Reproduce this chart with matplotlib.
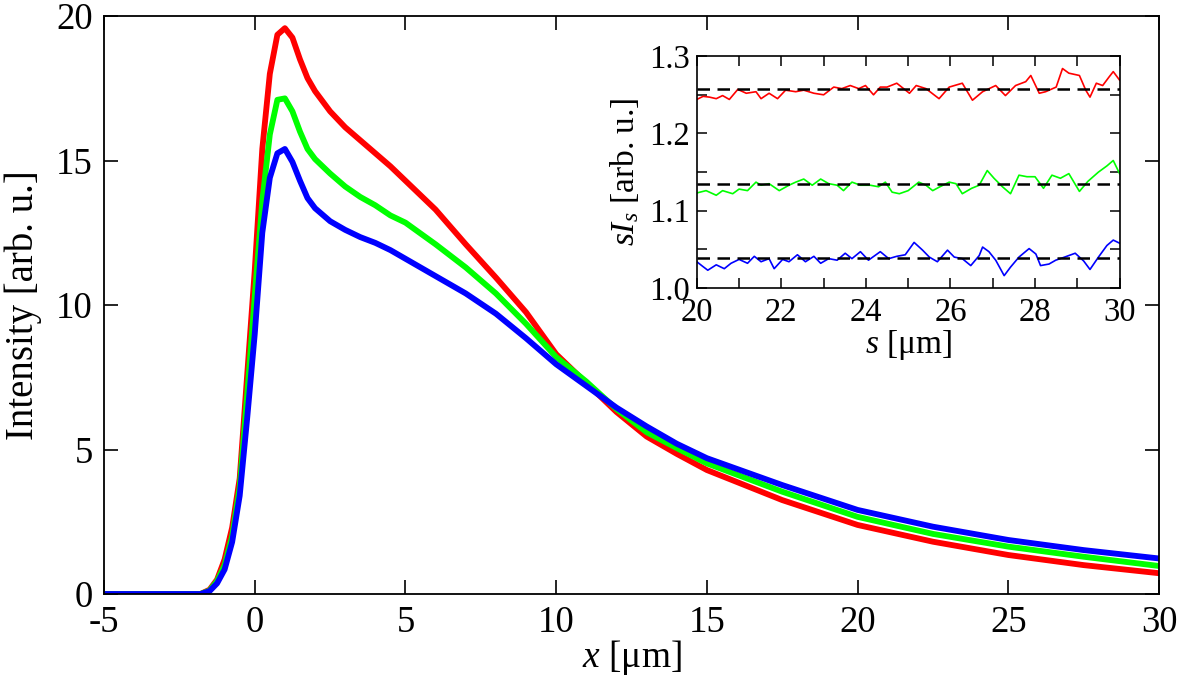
import numpy as np
import matplotlib
matplotlib.use('Agg')
import matplotlib.pyplot as plt
from matplotlib.ticker import MultipleLocator, FormatStrFormatter

plt.rcParams['font.family'] = 'Liberation Serif'
plt.rcParams['mathtext.fontset'] = 'custom'
plt.rcParams['mathtext.rm'] = 'Liberation Serif'
plt.rcParams['mathtext.it'] = 'Liberation Serif:italic'

# main panel: intensity profiles
x = [-5, -1.8, -1.5, -1.25, -1.0, -0.75, -0.5, -0.25, 0.0, 0.25, 0.5, 0.75, 1.0,
     1.25, 1.5, 1.75, 2.0, 2.5, 3.0, 3.5, 4.0, 4.5, 5.0, 6.0, 7.0, 8.0, 9.0, 10.0,
     11.0, 12.0, 13.0, 14.0, 15.0, 17.5, 20.0, 22.5, 25.0, 27.5, 30.0]
red = [0, 0, 0.15, 0.5, 1.2, 2.3, 4.0, 7.6, 11.2, 15.4, 18.0, 19.35, 19.58,
       19.25, 18.5, 17.85, 17.4, 16.7, 16.15, 15.7, 15.25, 14.8, 14.3, 13.3, 12.1,
       10.95, 9.75, 8.3, 7.3, 6.3, 5.45, 4.85, 4.29, 3.25, 2.39, 1.81, 1.35, 1.00, 0.72]
green = [0, 0, 0.12, 0.45, 1.0, 2.0, 3.7, 6.9, 10.3, 13.6, 15.9, 17.1, 17.15,
         16.7, 16.0, 15.4, 15.05, 14.55, 14.1, 13.74, 13.45, 13.1, 12.85, 12.1, 11.3,
         10.4, 9.35, 8.2, 7.35, 6.4, 5.6, 5.05, 4.52, 3.54, 2.67, 2.08, 1.64, 1.29, 0.97]
blue = [0, 0, 0.1, 0.37, 0.85, 1.8, 3.4, 6.1, 9.0, 12.5, 14.4, 15.25, 15.4,
        14.95, 14.3, 13.7, 13.35, 12.9, 12.6, 12.35, 12.15, 11.9, 11.6, 11.0, 10.4,
        9.7, 8.85, 7.95, 7.2, 6.45, 5.8, 5.2, 4.70, 3.77, 2.91, 2.33, 1.87, 1.52, 1.23]

# inset: s*I_s
red_s = [20.0, 20.15, 20.3, 20.46, 20.61, 20.77, 20.97, 21.17, 21.4, 21.52, 21.71, 21.91,
         22.1, 22.34, 22.53, 22.77, 23.0, 23.24, 23.43, 23.63, 23.83, 23.99, 24.18, 24.34,
         24.5, 24.73, 25.03, 25.19, 25.42, 25.73, 25.97, 26.28, 26.52, 26.76, 27.07, 27.3,
         27.54, 27.78, 27.9, 28.1, 28.25, 28.5, 28.65, 28.8, 29.05, 29.2, 29.3, 29.45,
         29.6, 29.75, 29.85, 30.0]
red_v = [1.244, 1.248, 1.247, 1.245, 1.249, 1.244, 1.257, 1.252, 1.254, 1.245, 1.252, 1.245,
         1.256, 1.254, 1.256, 1.252, 1.250, 1.260, 1.258, 1.262, 1.258, 1.262, 1.250, 1.260,
         1.260, 1.265, 1.252, 1.262, 1.258, 1.245, 1.260, 1.265, 1.243, 1.254, 1.262, 1.249,
         1.262, 1.267, 1.275, 1.252, 1.254, 1.260, 1.284, 1.278, 1.275, 1.256, 1.247, 1.265,
         1.262, 1.273, 1.280, 1.269]
green_s = [20.0, 20.22, 20.46, 20.61, 20.85, 21.0, 21.2, 21.4, 21.52, 21.71, 21.95, 22.18,
           22.34, 22.53, 22.73, 22.93, 23.12, 23.32, 23.47, 23.67, 23.87, 24.1, 24.3, 24.46,
           24.62, 24.79, 25.0, 25.25, 25.42, 25.58, 25.75, 25.97, 26.13, 26.28, 26.5, 26.68,
           26.87, 27.03, 27.23, 27.42, 27.62, 27.81, 28.0, 28.2, 28.4, 28.6, 28.8, 29.05,
           29.25, 29.5, 29.7, 29.85, 30.0]
green_v = [1.123, 1.126, 1.120, 1.126, 1.122, 1.128, 1.126, 1.137, 1.133, 1.135, 1.126, 1.133,
           1.137, 1.141, 1.133, 1.141, 1.135, 1.133, 1.126, 1.137, 1.133, 1.133, 1.131, 1.137,
           1.124, 1.122, 1.126, 1.137, 1.133, 1.126, 1.131, 1.137, 1.135, 1.122, 1.129, 1.133,
           1.152, 1.142, 1.131, 1.122, 1.146, 1.144, 1.144, 1.129, 1.146, 1.142, 1.148, 1.125,
           1.138, 1.150, 1.158, 1.165, 1.148]
blue_s = [20.0, 20.14, 20.26, 20.46, 20.65, 20.81, 21.0, 21.2, 21.36, 21.52, 21.71, 21.83,
          22.03, 22.18, 22.38, 22.57, 22.77, 22.93, 23.12, 23.32, 23.51, 23.67, 23.87, 24.06,
          24.34, 24.54, 24.73, 24.93, 25.14, 25.34, 25.5, 25.69, 25.93, 26.09, 26.28, 26.48,
          26.68, 26.76, 26.91, 27.07, 27.27, 27.42, 27.62, 27.86, 28.02, 28.13, 28.33, 28.49,
          28.7, 28.95, 29.15, 29.3, 29.5, 29.7, 29.85, 30.0]
blue_v = [1.034, 1.028, 1.023, 1.030, 1.025, 1.032, 1.037, 1.032, 1.041, 1.034, 1.038, 1.025,
          1.037, 1.034, 1.043, 1.034, 1.041, 1.032, 1.038, 1.036, 1.045, 1.038, 1.047, 1.036,
          1.047, 1.038, 1.041, 1.043, 1.059, 1.049, 1.040, 1.034, 1.049, 1.040, 1.038, 1.029,
          1.042, 1.053, 1.047, 1.036, 1.016, 1.027, 1.040, 1.051, 1.044, 1.029, 1.031, 1.036,
          1.040, 1.045, 1.035, 1.024, 1.040, 1.055, 1.062, 1.058]
mean_levels = [1.257, 1.134, 1.039]

colors = ['#ff0000', '#00ff00', '#0000ff']

fig = plt.figure(figsize=(11.81, 6.90), dpi=100)
ax = fig.add_axes([0.0881, 0.1391, 0.8933, 0.8377])

for ys, c in zip([red, green, blue], colors):
    ax.plot(x, ys, color=c, lw=4.2, solid_joinstyle='round', solid_capstyle='round')

ax.set_xlim(-5, 30)
ax.set_ylim(0, 20)
ax.set_xticks(np.arange(-5, 31, 5))
ax.set_xticklabels(['-5', '0', '5', '10', '15', '20', '25', '30'])
ax.set_yticks(np.arange(0, 21, 5))
ax.tick_params(direction='in', length=10, width=1.2, top=True, right=True,
               labelsize=26.5, pad=8)
for sp in ax.spines.values():
    sp.set_linewidth(1.3)
ax.set_xlabel('$x$ [μm]', fontsize=27, labelpad=-1)
ax.set_ylabel('Intensity [arb. u.]', fontsize=28, labelpad=10)

# inset
ins = fig.add_axes([0.590, 0.5826, 0.358, 0.336])
for s, v, c in zip([red_s, green_s, blue_s], [red_v, green_v, blue_v], colors):
    ins.plot(s, v, color=c, lw=1.2)
for m in mean_levels:
    ins.axhline(m, color='black', lw=1.8, ls=(0, (5, 3)))

ins.set_xlim(20, 30)
ins.set_ylim(1.0, 1.3)
ins.xaxis.set_major_locator(MultipleLocator(2))
ins.xaxis.set_minor_locator(MultipleLocator(1))
ins.yaxis.set_major_locator(MultipleLocator(0.1))
ins.yaxis.set_minor_locator(MultipleLocator(0.05))
ins.yaxis.set_major_formatter(FormatStrFormatter('%.1f'))
ins.tick_params(which='both', direction='in', top=True, right=True, width=1.1)
ins.tick_params(which='major', length=7, labelsize=23.5)
ins.tick_params(which='minor', length=7)
ins.tick_params(axis='x', pad=7)
ins.tick_params(axis='y', pad=5)
for sp in ins.spines.values():
    sp.set_linewidth(1.2)
ins.set_xlabel('$s$ [μm]', fontsize=24, labelpad=0)
ins.set_ylabel('$sI_s$ [arb. u.]', fontsize=24, labelpad=6)

fig.savefig('out.png', dpi=100)
